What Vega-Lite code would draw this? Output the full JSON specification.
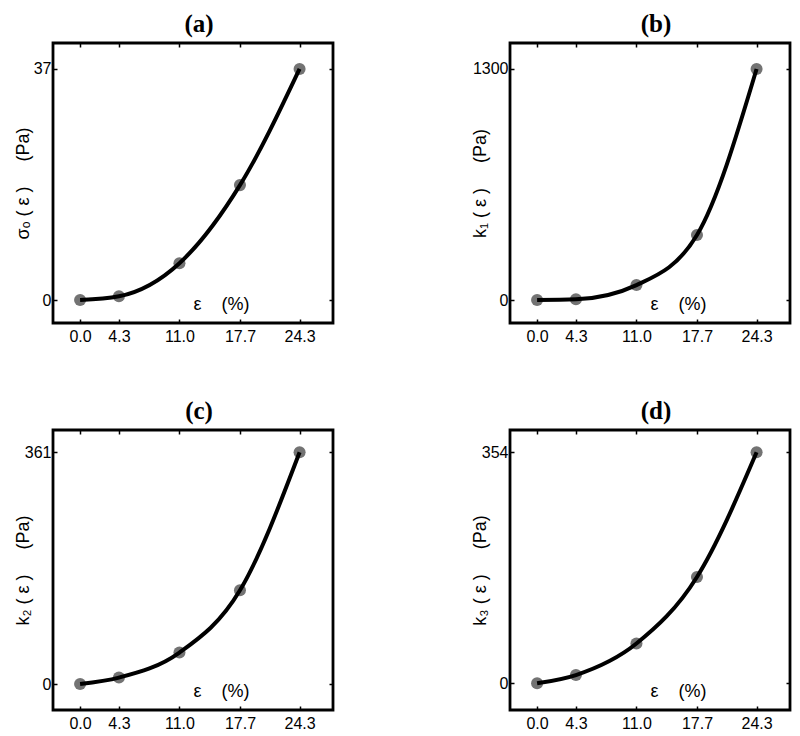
{
  "$schema": "https://vega.github.io/schema/vega-lite/v6.json",
  "padding": {"left": 12, "top": 10, "right": 5, "bottom": 5},
  "background": "white",
  "config": {
    "font": "Liberation Sans",
    "view": {"stroke": "black", "strokeWidth": 2.8},
    "axis": {"grid": false, "domain": false, "tickColor": "black", "tickWidth": 1.5, "tickSize": -4, "labelColor": "black", "labelFontSize": 16, "titleColor": "black", "titleFontWeight": "normal", "titleFontSize": 18, "labelFont": "Liberation Sans", "titleFont": "Liberation Sans"},
    "title": {"font": "Liberation Serif", "fontSize": 25, "fontWeight": "bold", "color": "black", "offset": 5, "dx": 6}
  },
  "data": {"values": [
    {"panel": "a", "strain": 0, "value": 0},
    {"panel": "a", "strain": 4.3, "value": 0.6},
    {"panel": "a", "strain": 11.0, "value": 5.9},
    {"panel": "a", "strain": 17.7, "value": 18.4},
    {"panel": "a", "strain": 24.3, "value": 37},
    {"panel": "b", "strain": 0, "value": 0},
    {"panel": "b", "strain": 4.3, "value": 4},
    {"panel": "b", "strain": 11.0, "value": 84},
    {"panel": "b", "strain": 17.7, "value": 366},
    {"panel": "b", "strain": 24.3, "value": 1300},
    {"panel": "c", "strain": 0, "value": 0},
    {"panel": "c", "strain": 4.3, "value": 10},
    {"panel": "c", "strain": 11.0, "value": 49},
    {"panel": "c", "strain": 17.7, "value": 146},
    {"panel": "c", "strain": 24.3, "value": 361},
    {"panel": "d", "strain": 0, "value": 0},
    {"panel": "d", "strain": 4.3, "value": 12.7},
    {"panel": "d", "strain": 11.0, "value": 61},
    {"panel": "d", "strain": 17.7, "value": 163},
    {"panel": "d", "strain": 24.3, "value": 354}
  ]},
  "columns": 2,
  "spacing": {"row": 107, "column": 177},
  "bounds": "flush",
  "concat": [
    {
      "width": 280, "height": 280,
      "title": "(a)",
      "transform": [{"filter": "datum.panel === 'a'"}],
      "layer": [
        {"mark": {"type": "point", "filled": true, "size": 145, "color": "#737373", "opacity": 1},
         "encoding": {
           "x": {"field": "strain", "type": "quantitative", "scale": {"domain": [-3, 28], "nice": false, "zero": false},
                 "axis": {"orient": "bottom", "values": [0, 4.3, 11, 17.7, 24.3], "format": ".1f", "labelPadding": 9, "title": "ε\u00a0\u00a0\u00a0\u00a0(%)", "titleX": 168, "titleY": -19, "titleBaseline": "middle", "titleAlign": "center"}},
           "y": {"field": "value", "type": "quantitative", "scale": {"domain": [-3.68, 41.16], "nice": false, "zero": false},
                 "axis": {"orient": "left", "values": [0, 37], "format": "d", "labelPadding": 6, "title": "σₒ\u00a0(\u00a0ε\u00a0)\u00a0\u00a0\u00a0\u00a0\u00a0(Pa)", "titleX": -30, "titleY": 140, "titleAngle": -90, "titleAlign": "center", "titleBaseline": "middle"}}
         }},
        {"mark": {"type": "line", "interpolate": "monotone", "color": "black", "strokeWidth": 4},
         "encoding": {
           "x": {"field": "strain", "type": "quantitative", "axis": {"orient": "top", "values": [0, 4.3, 11, 17.7, 24.3], "labels": false, "title": null}},
           "y": {"field": "value", "type": "quantitative", "axis": {"orient": "right", "values": [0, 37], "labels": false, "title": null}}
         }}
      ],
      "resolve": {"axis": {"x": "independent", "y": "independent"}}
    },
    {
      "width": 280, "height": 280,
      "title": "(b)",
      "transform": [{"filter": "datum.panel === 'b'"}],
      "layer": [
        {"mark": {"type": "point", "filled": true, "size": 145, "color": "#737373", "opacity": 1},
         "encoding": {
           "x": {"field": "strain", "type": "quantitative", "scale": {"domain": [-3, 28], "nice": false, "zero": false},
                 "axis": {"orient": "bottom", "values": [0, 4.3, 11, 17.7, 24.3], "format": ".1f", "labelPadding": 9, "title": "ε\u00a0\u00a0\u00a0\u00a0(%)", "titleX": 168, "titleY": -19, "titleBaseline": "middle", "titleAlign": "center"}},
           "y": {"field": "value", "type": "quantitative", "scale": {"domain": [-129.4, 1446.3], "nice": false, "zero": false},
                 "axis": {"orient": "left", "values": [0, 1300], "format": "d", "labelPadding": 6, "title": "k₁\u00a0(\u00a0ε\u00a0)\u00a0\u00a0\u00a0\u00a0\u00a0(Pa)", "titleX": -30, "titleY": 140, "titleAngle": -90, "titleAlign": "center", "titleBaseline": "middle"}}
         }},
        {"mark": {"type": "line", "interpolate": "monotone", "color": "black", "strokeWidth": 4},
         "encoding": {
           "x": {"field": "strain", "type": "quantitative", "axis": {"orient": "top", "values": [0, 4.3, 11, 17.7, 24.3], "labels": false, "title": null}},
           "y": {"field": "value", "type": "quantitative", "axis": {"orient": "right", "values": [0, 1300], "labels": false, "title": null}}
         }}
      ],
      "resolve": {"axis": {"x": "independent", "y": "independent"}}
    },
    {
      "width": 280, "height": 280,
      "title": "(c)",
      "transform": [{"filter": "datum.panel === 'c'"}],
      "layer": [
        {"mark": {"type": "point", "filled": true, "size": 145, "color": "#737373", "opacity": 1},
         "encoding": {
           "x": {"field": "strain", "type": "quantitative", "scale": {"domain": [-3, 28], "nice": false, "zero": false},
                 "axis": {"orient": "bottom", "values": [0, 4.3, 11, 17.7, 24.3], "format": ".1f", "labelPadding": 9, "title": "ε\u00a0\u00a0\u00a0\u00a0(%)", "titleX": 168, "titleY": -19, "titleBaseline": "middle", "titleAlign": "center"}},
           "y": {"field": "value", "type": "quantitative", "scale": {"domain": [-40.5, 395.7], "nice": false, "zero": false},
                 "axis": {"orient": "left", "values": [0, 361], "format": "d", "labelPadding": 6, "title": "k₂\u00a0(\u00a0ε\u00a0)\u00a0\u00a0\u00a0\u00a0\u00a0(Pa)", "titleX": -30, "titleY": 140, "titleAngle": -90, "titleAlign": "center", "titleBaseline": "middle"}}
         }},
        {"mark": {"type": "line", "interpolate": "monotone", "color": "black", "strokeWidth": 4},
         "encoding": {
           "x": {"field": "strain", "type": "quantitative", "axis": {"orient": "top", "values": [0, 4.3, 11, 17.7, 24.3], "labels": false, "title": null}},
           "y": {"field": "value", "type": "quantitative", "axis": {"orient": "right", "values": [0, 361], "labels": false, "title": null}}
         }}
      ],
      "resolve": {"axis": {"x": "independent", "y": "independent"}}
    },
    {
      "width": 280, "height": 280,
      "title": "(d)",
      "transform": [{"filter": "datum.panel === 'd'"}],
      "layer": [
        {"mark": {"type": "point", "filled": true, "size": 145, "color": "#737373", "opacity": 1},
         "encoding": {
           "x": {"field": "strain", "type": "quantitative", "scale": {"domain": [-3, 28], "nice": false, "zero": false},
                 "axis": {"orient": "bottom", "values": [0, 4.3, 11, 17.7, 24.3], "format": ".1f", "labelPadding": 9, "title": "ε\u00a0\u00a0\u00a0\u00a0(%)", "titleX": 168, "titleY": -19, "titleBaseline": "middle", "titleAlign": "center"}},
           "y": {"field": "value", "type": "quantitative", "scale": {"domain": [-40.9, 388.2], "nice": false, "zero": false},
                 "axis": {"orient": "left", "values": [0, 354], "format": "d", "labelPadding": 6, "title": "k₃\u00a0(\u00a0ε\u00a0)\u00a0\u00a0\u00a0\u00a0\u00a0(Pa)", "titleX": -30, "titleY": 140, "titleAngle": -90, "titleAlign": "center", "titleBaseline": "middle"}}
         }},
        {"mark": {"type": "line", "interpolate": "monotone", "color": "black", "strokeWidth": 4},
         "encoding": {
           "x": {"field": "strain", "type": "quantitative", "axis": {"orient": "top", "values": [0, 4.3, 11, 17.7, 24.3], "labels": false, "title": null}},
           "y": {"field": "value", "type": "quantitative", "axis": {"orient": "right", "values": [0, 354], "labels": false, "title": null}}
         }}
      ],
      "resolve": {"axis": {"x": "independent", "y": "independent"}}
    }
  ]
}
